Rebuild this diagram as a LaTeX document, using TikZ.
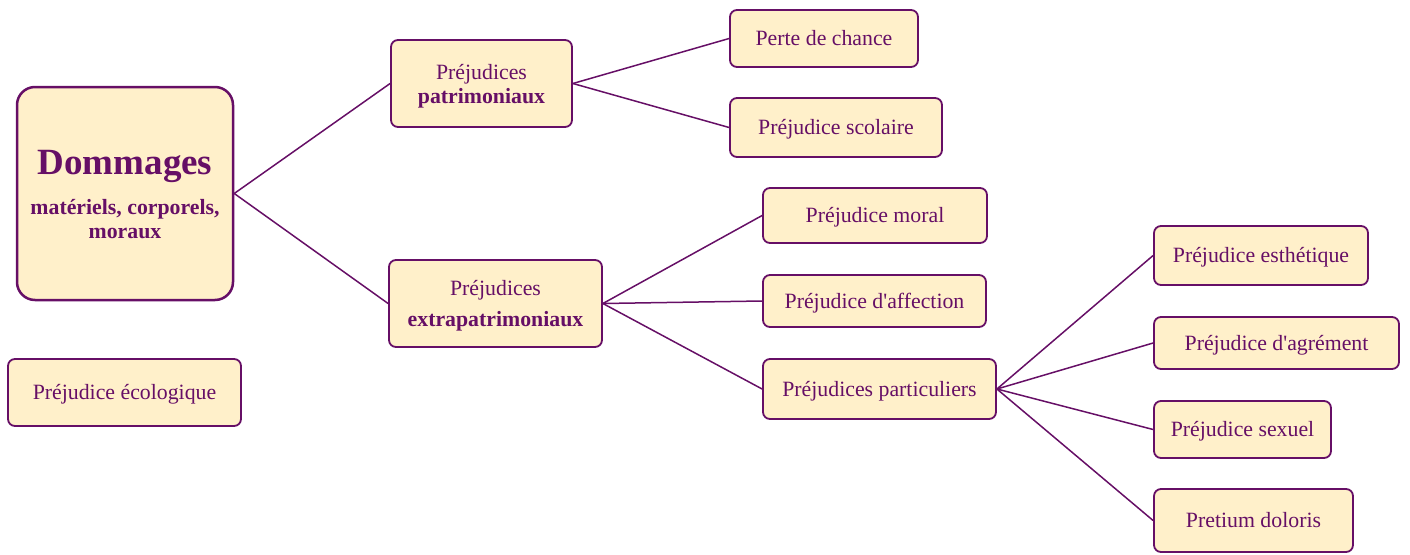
\documentclass[tikz,border=0pt]{standalone}
\usepackage{fontspec}
\setmainfont{Liberation Serif}[Ligatures=TeXOff]
\definecolor{pur}{HTML}{660F66}
\definecolor{crm}{HTML}{FFF0CA}
\begin{document}
\begin{tikzpicture}[x=1pt,y=-1pt,
  box/.style={draw=pur, fill=crm, line width=1.8pt, rounded corners=7pt, text=pur,
    font=\fontsize{21.8}{24}\selectfont, align=center, inner sep=0pt},
  one/.style={text height=18pt, text depth=4pt},
  conn/.style={draw=pur, line width=1.5pt}]
\useasboundingbox (0,0) rectangle (1410,554);
\node[box, minimum width=216, minimum height=213, rounded corners=18pt, line width=2.5pt] (dom) at (125,193.5)
  {\raisebox{-4pt}[\height][\depth]{\begin{tabular}{@{}c@{}}{\fontsize{37}{40}\selectfont\bfseries Dommages}\\[16pt]
   \bfseries matériels, corporels,\\ \bfseries moraux\end{tabular}}};
\node[box, minimum width=181, minimum height=87] (pat) at (481.5,83.5)
  {\raisebox{-3pt}[\height][\depth]{\begin{tabular}{@{}c@{}}Préjudices\\ \bfseries patrimoniaux\end{tabular}}};
\node[box, minimum width=213, minimum height=87] (ext) at (495.5,303.5)
  {\raisebox{-3pt}[\height][\depth]{\begin{tabular}{@{}c@{}}Préjudices\\[7pt] \bfseries extrapatrimoniaux\end{tabular}}};
\node[box, one, minimum width=233, minimum height=67] (eco) at (124.5,392.5) {Préjudice écologique};
\node[box, one, minimum width=188, minimum height=57] (perte) at (824,38.5) {Perte de chance};
\node[box, one, minimum width=212, minimum height=59] (scol) at (836,127.5) {Préjudice scolaire};
\node[box, one, minimum width=224, minimum height=55] (moral) at (875,215.5) {Préjudice moral};
\node[box, one, minimum width=223, minimum height=52] (aff) at (874.5,301) {Préjudice d'affection};
\node[box, one, minimum width=233, minimum height=60] (part) at (879.5,389) {Préjudices particuliers};
\node[box, one, minimum width=214, minimum height=59] (esth) at (1261,255.5) {Préjudice esthétique};
\node[box, one, minimum width=245, minimum height=52] (agr) at (1276.5,343) {Préjudice d'agrément};
\node[box, one, minimum width=177, minimum height=57] (sex) at (1242.5,429.5) {Préjudice sexuel};
\node[box, one, minimum width=199, minimum height=63] (pret) at (1253.5,520.5) {Pretium doloris};
\draw[conn] (dom.east) -- (pat.west);
\draw[conn] (dom.east) -- (ext.west);
\draw[conn] (pat.east) -- (perte.west);
\draw[conn] (pat.east) -- (scol.west);
\draw[conn] (ext.east) -- (moral.west);
\draw[conn] (ext.east) -- (aff.west);
\draw[conn] (ext.east) -- (part.west);
\draw[conn] (part.east) -- (esth.west);
\draw[conn] (part.east) -- (agr.west);
\draw[conn] (part.east) -- (sex.west);
\draw[conn] (part.east) -- (pret.west);
\end{tikzpicture}
\end{document}
